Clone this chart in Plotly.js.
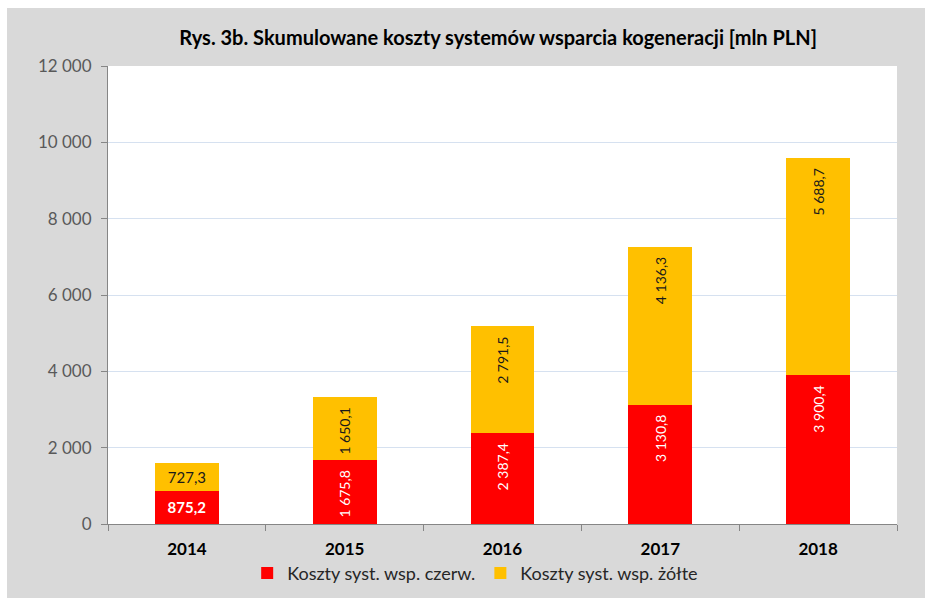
<!DOCTYPE html>
<html><head><meta charset="utf-8">
<script src="https://cdn.plot.ly/plotly-3.0.1.min.js"></script>
<style>
html,body{margin:0;padding:0;background:#fff;}
#chart{position:absolute;left:7px;top:8px;width:918px;height:590px;}
</style></head>
<body><div id="chart"></div>
<script>
var years = ['2014','2015','2016','2017','2018'];
var czerw = [875.2, 1675.8, 2387.4, 3130.8, 3900.4];
var zolte = [727.3, 1650.1, 2791.5, 4136.3, 5688.7];
var seriesNames = ['Koszty syst. wsp. czerw.', 'Koszty syst. wsp. żółte'];
var yTicks = [0, 2000, 4000, 6000, 8000, 10000, 12000];

var RED = '#FF0000', YEL = '#FFC000';
var FONT = 'Lato, "Noto Sans", sans-serif';
var pad = '\u00a0\u00a0';

function tr(xs, ys, name, color, show, angle, anchor, tcolor, weight, size, tmpl){
  return {
    type:'bar', x:xs, y:ys, name:name, legendgroup:name, showlegend:show,
    marker:{color:color, line:{width:0}},
    texttemplate: tmpl, textposition:'inside', textangle:angle,
    insidetextanchor:anchor, constraintext:'none',
    insidetextfont:{family:FONT, size:size, color:tcolor, weight:weight},
    hoverinfo:'skip'
  };
}
var data = [
  tr(years.slice(0,1), czerw.slice(0,1), seriesNames[0], RED, true, 0, 'middle', '#FFFFFF', 'bold', 15, '%{y:,.1f}'),
  tr(years.slice(1), czerw.slice(1), seriesNames[0], RED, false, -90, 'end', '#FFFFFF', 'normal', 14, '%{y:,.1f}'+pad),
  tr(years.slice(0,1), zolte.slice(0,1), seriesNames[1], YEL, true, 0, 'middle', '#1a1a1a', 'normal', 15, '%{y:,.1f}'),
  tr(years.slice(1), zolte.slice(1), seriesNames[1], YEL, false, -90, 'end', '#1a1a1a', 'normal', 14, '%{y:,.1f}'+pad)
];

var layout = {
  width:918, height:590,
  paper_bgcolor:'#D9D9D9', plot_bgcolor:'#FFFFFF',
  separators:', ',
  font:{family:FONT, color:'#404040'},
  margin:{l:101, r:28, t:58, b:74, autoexpand:false},
  barmode:'stack', bargap:0.595,
  title:{text:'<b>Rys. 3b. Skumulowane koszty systemów wsparcia kogeneracji [mln PLN]</b>',
         font:{family:FONT, size:20, color:'#000000'}, x:0.535, xanchor:'center', y:0.95, yanchor:'middle'},
  xaxis:{type:'category', categoryorder:'array', categoryarray:years,
         showline:true, linecolor:'#868686', linewidth:1,
         ticks:'outside', tickson:'boundaries', ticklen:6, tickcolor:'#868686', ticklabelstandoff:10,
         tickfont:{family:FONT, size:17, color:'#000000', weight:'bold'},
         showgrid:false, fixedrange:true},
  yaxis:{range:[0,12000], tickvals:yTicks, tickformat:',d',
         showline:true, linecolor:'#868686', linewidth:1,
         ticks:'outside', ticklen:6, tickcolor:'#868686', ticklabelstandoff:6,
         tickfont:{family:FONT, size:17, color:'#595959'},
         showgrid:true, gridcolor:'#D6E1F0', gridwidth:1, zeroline:false, fixedrange:true},
  legend:{orientation:'h', xref:'container', yref:'container', x:0.51, xanchor:'center', y:0.042, yanchor:'middle',
          font:{family:FONT, size:18, color:'#262626'}, bgcolor:'rgba(0,0,0,0)', traceorder:'normal'},
  showlegend:true
};
Plotly.newPlot('chart', data, layout, {displayModeBar:false, staticPlot:true});
</script></body></html>
